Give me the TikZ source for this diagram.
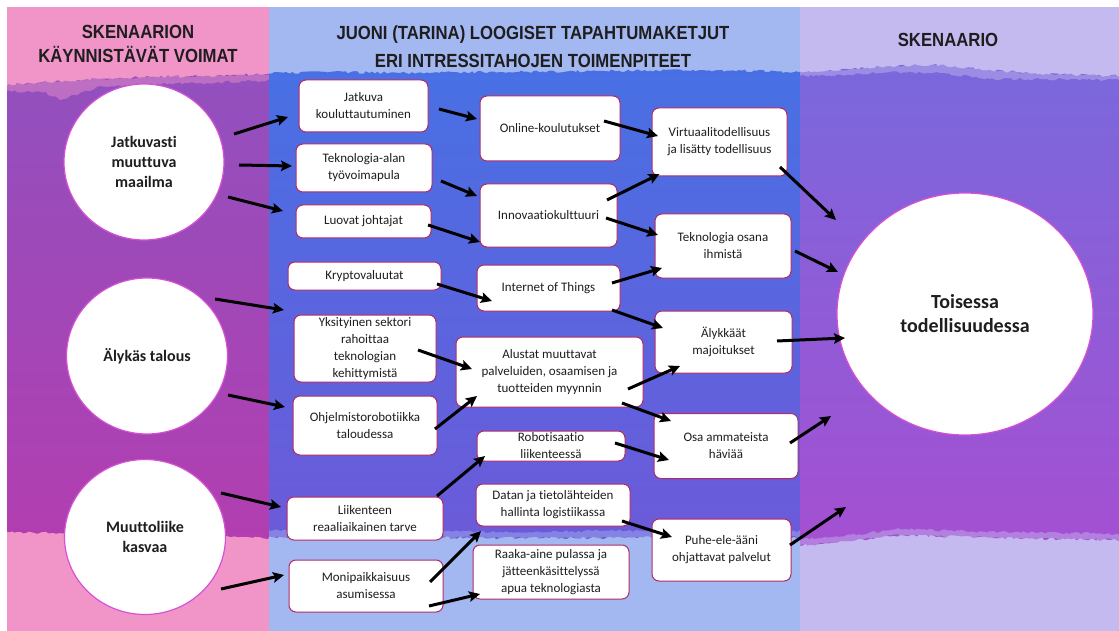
\documentclass[tikz,border=0pt]{standalone}
\usepackage{fontspec}
\usepackage{graphicx}
\setmainfont{Carlito}[Ligatures=NoCommon]
\newfontfamily\headfont{Liberation Sans}
\usetikzlibrary{arrows.meta,decorations.pathmorphing,shapes.geometric}

\definecolor{lpink}{RGB}{241,149,201}
\definecolor{ldtop}{RGB}{146,80,190}
\definecolor{ldbot}{RGB}{178,62,176}
\definecolor{mlight}{RGB}{163,183,241}
\definecolor{mdtop}{RGB}{72,112,228}
\definecolor{mdbot}{RGB}{108,90,217}
\definecolor{rlight}{RGB}{197,186,239}
\definecolor{rdtop}{RGB}{122,104,220}
\definecolor{rdbot}{RGB}{164,80,210}
\definecolor{boxline}{RGB}{178,42,104}
\definecolor{circline}{RGB}{214,80,214}
\definecolor{ink}{RGB}{30,30,30}

\newcommand{\hdline}[1]{\scalebox{0.88}[1]{#1}}

\tikzset{
  box/.style={draw=boxline, line width=1pt, fill=white, rounded corners=7pt,
    align=center, inner sep=0pt, text=ink, font=\fontsize{13}{17}\selectfont},
  circ/.style={ellipse, draw=circline, line width=1.2pt, fill=white,
    align=center, inner sep=0pt, text=ink, font=\bfseries\fontsize{16}{20}\selectfont},
  head/.style={align=center, text=ink, inner sep=0pt,
    font=\headfont\bfseries\fontsize{19}{24}\selectfont},
  arr/.style={line width=3pt, black, -{Stealth[length=11pt,width=10.5pt,inset=2pt]}},
  edge/.style={decorate, decoration={random steps, segment length=3pt, amplitude=1.3pt}}
}

\begin{document}
\begin{tikzpicture}[x=1pt,y=-1pt]
\pgfmathsetseed{17}
\useasboundingbox (0,0) rectangle (1119,631);
\fill[white] (0,0) rectangle (1119,631);

% ---- three coloured panels ----
\fill[lpink]  (7,7) rectangle (269,631);
\fill[mlight] (269,7) rectangle (800,631);
\fill[rlight] (800,7) rectangle (1119,631);

\begin{scope}
  \clip (7,7) rectangle (269,631);
  \shade[top color=ldtop, bottom color=ldbot, edge]
    (0,85) -- (30,83) -- (60,81) -- (100,79) -- (150,77) -- (200,76) -- (240,75) -- (276,74)
    -- (276,538) -- (230,537) -- (150,534) -- (60,533) -- (0,532) -- cycle;
  \fill[lpink, opacity=0.45, edge]
    (0,85) -- (30,83) -- (60,81) -- (100,79) -- (150,77) -- (200,76) -- (240,75) -- (276,74)
    -- (276,80) -- (200,83) -- (100,86) -- (60,100) -- (45,92) -- (0,91) -- cycle;
\end{scope}

\begin{scope}
  \clip (269,7) rectangle (800,631);
  \shade[top color=mdtop, bottom color=mdbot, edge]
    (262,73) -- (330,72) -- (400,73) -- (500,72) -- (600,71) -- (700,70) -- (806,72)
    -- (806,537) -- (700,536) -- (600,538) -- (500,538) -- (400,537) -- (262,537) -- cycle;
  \fill[mlight, opacity=0.45, edge]
    (262,530) -- (400,531) -- (500,532) -- (600,531) -- (700,530) -- (806,531)
    -- (806,537) -- (700,536) -- (600,538) -- (500,538) -- (400,537) -- (262,537) -- cycle;
\end{scope}

\begin{scope}
  \clip (800,7) rectangle (1119,631);
  \shade[top color=rdtop, bottom color=rdbot, edge]
    (794,72) -- (850,69) -- (890,66) -- (940,65) -- (990,70) -- (1040,74) -- (1125,76)
    -- (1125,540) -- (1000,538) -- (900,535) -- (850,541) -- (794,546) -- cycle;
  \fill[rlight, opacity=0.45, edge]
    (794,72) -- (850,69) -- (890,66) -- (940,65) -- (990,70) -- (1040,74) -- (1125,76)
    -- (1125,80) -- (1040,79) -- (990,79) -- (940,73) -- (890,72) -- (850,75) -- (794,76) -- cycle;
  \fill[rlight, opacity=0.45, edge]
    (794,540) -- (850,535) -- (900,529) -- (1000,532) -- (1125,534)
    -- (1125,540) -- (1000,538) -- (900,535) -- (850,541) -- (794,546) -- cycle;
\end{scope}

% ---- headings ----
\node[head] (hleft) at (138,44) {\hdline{SKENAARION}\\\hdline{KÄYNNISTÄVÄT VOIMAT}};
\node[head, font=\headfont\bfseries\fontsize{19}{28}\selectfont] (hmid) at (533,47)
  {\hdline{JUONI (TARINA) LOOGISET TAPAHTUMAKETJUT}\\\hdline{ERI INTRESSITAHOJEN TOIMENPITEET}};
\node[head] (hright) at (948,40) {\hdline{SKENAARIO}};

% ---- driving forces ----
\node[circ, minimum width=160, minimum height=156] (c1) at (144,162) {Jatkuvasti\\muuttuva\\maailma};
\node[circ, minimum width=161, minimum height=156] (c2) at (147,356) {Älykäs talous};
\node[circ, minimum width=161, minimum height=155] (c3) at (145,537) {Muuttoliike\\kasvaa};

% ---- scenario ----
\node[circ, minimum width=256, minimum height=242, font=\bfseries\fontsize{20}{24}\selectfont]
  (toi) at (965,314) {Toisessa\\todellisuudessa};

% ---- first column of events ----
\node[box, minimum width=129, minimum height=52] (kou) at (363.5,106) {Jatkuva\\kouluttautuminen};
\node[box, minimum width=136, minimum height=48] (tyo) at (364,168) {Teknologia-alan\\työvoimapula};
\node[box, minimum width=135, minimum height=33] (luo) at (363.5,221.5) {Luovat johtajat};
\node[box, minimum width=153, minimum height=28] (kry) at (364.5,276) {Kryptovaluutat};
\node[box, minimum width=142, minimum height=67] (yks) at (365,348.5) {Yksityinen sektori\\rahoittaa\\teknologian\\kehittymistä};
\node[box, minimum width=144, minimum height=59] (ohj) at (365,425.5) {Ohjelmistorobotiikka\\taloudessa};
\node[box, minimum width=156, minimum height=43] (lii) at (365,518.5) {Liikenteen\\reaaliaikainen tarve};
\node[box, minimum width=154, minimum height=52] (mon) at (366,586) {Monipaikkaisuus\\asumisessa};

% ---- second column ----
\node[box, minimum width=140, minimum height=65] (onl) at (550,128.5) {Online-koulutukset};
\node[box, minimum width=137, minimum height=63] (inn) at (548.5,215.5) {Innovaatiokulttuuri};
\node[box, minimum width=143, minimum height=46] (iot) at (548.5,288) {Internet of Things};
\node[box, minimum width=187, minimum height=70] (alu) at (549.5,372) {Alustat muuttavat\\palveluiden, osaamisen ja\\tuotteiden myynnin};
\node[box, minimum width=148, minimum height=30] (rob) at (551,446) {Robotisaatio\\liikenteessä};
\node[box, minimum width=154, minimum height=42] (dat) at (553,505) {Datan ja tietolähteiden\\hallinta logistiikassa};
\node[box, minimum width=156, minimum height=54] (raa) at (551,572) {Raaka-aine pulassa ja\\jätteenkäsittelyssä\\apua teknologiasta};

% ---- third column ----
\node[box, minimum width=135, minimum height=68] (vir) at (719.5,142) {Virtuaalitodellisuus\\ja lisätty todellisuus};
\node[box, minimum width=136, minimum height=64] (tek) at (723,246) {Teknologia osana\\ihmistä};
\node[box, minimum width=137, minimum height=62] (aly) at (723.5,342) {Älykkäät\\majoitukset};
\node[box, minimum width=144, minimum height=65] (osa) at (726,446) {Osa ammateista\\häviää};
\node[box, minimum width=139, minimum height=62] (puh) at (721.5,550) {Puhe-ele-ääni\\ohjattavat palvelut};

% ---- connectors ----
\draw[arr] ([shift={(90,-28)}]c1.center) -- ([shift={(-75.5,11)}]kou.center);
\draw[arr] ([shift={(95,3)}]c1.center) -- ([shift={(-72,-2)}]tyo.center);
\draw[arr] ([shift={(84,35)}]c1.center) -- ([shift={(-80.5,-10.5)}]luo.center);
\draw[arr] ([shift={(68,-57)}]c2.center) -- ([shift={(-81,-38.5)}]yks.center);
\draw[arr] ([shift={(81,39)}]c2.center) -- ([shift={(-80,-18.5)}]ohj.center);
\draw[arr] ([shift={(76,-44)}]c3.center) -- ([shift={(-84,-11.5)}]lii.center);
\draw[arr] ([shift={(76,52)}]c3.center) -- ([shift={(-82,-11)}]mon.center);

\draw[arr] ([shift={(75.5,3)}]kou.center) -- ([shift={(-73,-9.5)}]onl.center);
\draw[arr] ([shift={(77,13)}]tyo.center) -- ([shift={(-71.5,-19.5)}]inn.center);
\draw[arr] ([shift={(64.5,3.5)}]luo.center) -- ([shift={(-68.5,26.5)}]inn.center);
\draw[arr] ([shift={(72.5,8)}]kry.center) -- ([shift={(-56.5,13)}]iot.center);
\draw[arr] ([shift={(53,1.5)}]yks.center) -- ([shift={(-77.5,-3)}]alu.center);
\draw[arr] ([shift={(70,3.5)}]ohj.center) -- ([shift={(-72.5,24)}]alu.center);
\draw[arr] ([shift={(72,-22.5)}]lii.center) -- ([shift={(-66,10)}]rob.center);
\draw[arr] ([shift={(64,-4)}]mon.center) -- ([shift={(-72,26)}]dat.center);
\draw[arr] ([shift={(63,20)}]mon.center) -- ([shift={(-71,22)}]raa.center);

\draw[arr] ([shift={(54,-7.5)}]onl.center) -- ([shift={(-61.5,-6)}]vir.center);
\draw[arr] ([shift={(58.5,-15.5)}]inn.center) -- ([shift={(-60,32)}]vir.center);
\draw[arr] ([shift={(57.5,2.5)}]inn.center) -- ([shift={(-65,-11)}]tek.center);
\draw[arr] ([shift={(63.5,-5)}]iot.center) -- ([shift={(-61,22)}]tek.center);
\draw[arr] ([shift={(63.5,22)}]iot.center) -- ([shift={(-60.5,-14)}]aly.center);
\draw[arr] ([shift={(78.5,17)}]alu.center) -- ([shift={(-43.5,24)}]aly.center);
\draw[arr] ([shift={(72.5,31)}]alu.center) -- ([shift={(-55,-25)}]osa.center);
\draw[arr] ([shift={(64,-3)}]rob.center) -- ([shift={(-57,14)}]osa.center);
\draw[arr] ([shift={(69,16)}]dat.center) -- ([shift={(-49.5,-13)}]puh.center);

\draw[arr] ([shift={(60.5,25)}]vir.center) -- ([shift={(-129,-94)}]toi.center);
\draw[arr] ([shift={(72,5)}]tek.center) -- ([shift={(-127,-42)}]toi.center);
\draw[arr] ([shift={(53.5,-1)}]aly.center) -- ([shift={(-120,24)}]toi.center);
\draw[arr] ([shift={(64,-3)}]osa.center) -- ([shift={(-134,102)}]toi.center);
\draw[arr] ([shift={(68.5,-5)}]puh.center) -- ([shift={(-119,193)}]toi.center);
\end{tikzpicture}
\end{document}
